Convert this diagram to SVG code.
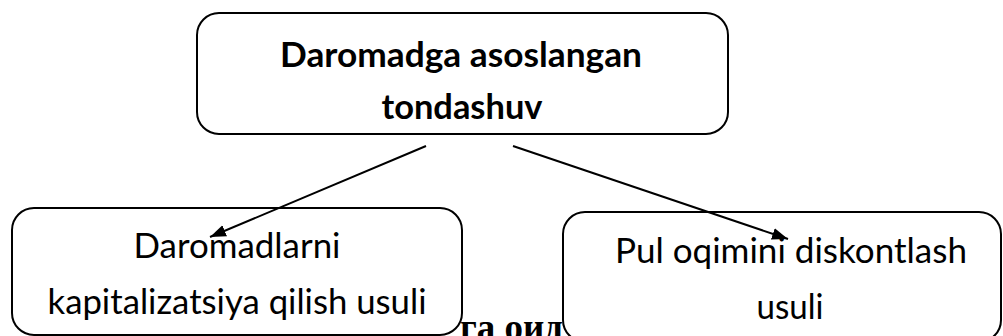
<svg xmlns="http://www.w3.org/2000/svg" width="1003" height="336" viewBox="0 0 1003 336">
<defs>
<style>
.box{fill:#fff;stroke:#000;stroke-width:2}
.t{font-family:Lato,"Liberation Sans",sans-serif;fill:#000;text-anchor:middle}
.b{font-weight:bold;font-size:35px}
.r{font-size:34px}
.edge{stroke:#000;stroke-width:2;fill:none}
</style>
<marker id="ah" markerUnits="userSpaceOnUse" markerWidth="18" markerHeight="14" refX="16" refY="6" orient="auto">
<path d="M0,0 L16,6 L0,12 z" fill="#000"/>
</marker>
</defs>
<rect width="1003" height="336" fill="#fff"/>
<text x="460" y="340" font-family="'Liberation Serif',serif" font-weight="bold" font-size="37">га оид</text>
<g id="top">
<rect class="box" x="197" y="13" width="531" height="121" rx="22"/>
<text class="t b" x="461" y="67" textLength="362" lengthAdjust="spacingAndGlyphs">Daromadga asoslangan</text>
<text class="t b" x="462" y="119" textLength="161" lengthAdjust="spacingAndGlyphs">tondashuv</text>
</g>
<g id="left">
<rect class="box" x="12" y="208" width="450" height="127" rx="22"/>
<text class="t r" x="237" y="258" textLength="207" lengthAdjust="spacingAndGlyphs">Daromadlarni</text>
<text class="t r" x="237" y="314" textLength="379" lengthAdjust="spacingAndGlyphs">kapitalizatsiya qilish usuli</text>
</g>
<g id="right">
<rect class="box" x="563" y="212" width="438" height="130" rx="22"/>
<text class="t r" x="791" y="263" textLength="352" lengthAdjust="spacingAndGlyphs">Pul oqimini diskontlash</text>
<text class="t r" x="790" y="319" textLength="67" lengthAdjust="spacingAndGlyphs">usuli</text>
</g>
<g id="connectors">
<line class="edge" x1="426" y1="146" x2="210" y2="237" marker-end="url(#ah)"/>
<line class="edge" x1="513" y1="146" x2="788" y2="239" marker-end="url(#ah)"/>
</g>
</svg>
